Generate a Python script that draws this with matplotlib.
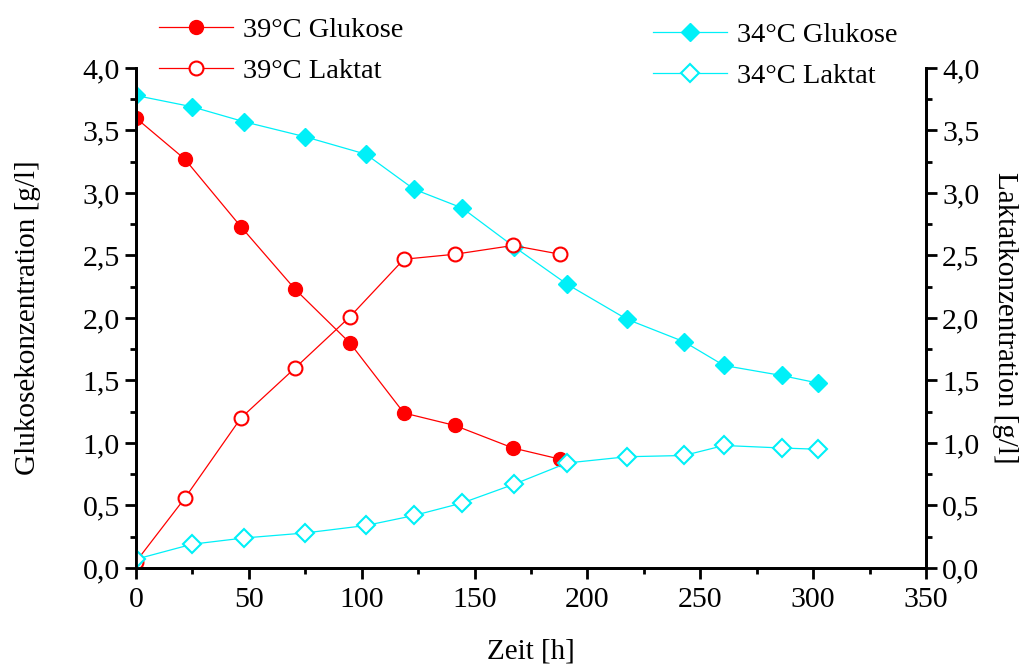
import matplotlib.pyplot as plt
from matplotlib.ticker import MultipleLocator, FuncFormatter

plt.rcParams['font.family'] = ['Liberation Serif', 'DejaVu Serif']

# 39 °C run
t39 = [0, 21.7, 46.5, 70.5, 94.8, 118.7, 141.3, 167, 188]
glc39 = [3.60, 3.27, 2.73, 2.23, 1.80, 1.24, 1.14, 0.96, 0.87]
lac39 = [0.05, 0.56, 1.20, 1.60, 2.01, 2.47, 2.51, 2.58, 2.51]

# 34 °C run
t34 = [0, 24.8, 47.9, 74.9, 101.9, 123.2, 144.5, 167.5, 191, 217.5, 242.8, 260.5, 286, 302]
glc34 = [3.78, 3.69, 3.57, 3.45, 3.31, 3.03, 2.88, 2.57, 2.27, 1.99, 1.81, 1.62, 1.54, 1.48]
lac34 = [0.07, 0.19, 0.24, 0.28, 0.34, 0.42, 0.52, 0.67, 0.84, 0.89, 0.90, 0.98, 0.96, 0.95]

red = '#ff0000'
cyan = '#00f0f8'

fig = plt.figure(figsize=(10.23, 6.64), dpi=100)
ax = fig.add_axes([0.1329, 0.1446, 0.7723, 0.753])
ax2 = ax.twinx()

l1, = ax.plot(t39, glc39, '-o', color=red, lw=0.9, ms=10, mfc=red, mec=red,
              label='39°C Glukose')
l3, = ax.plot(t34, glc34, '-D', color=cyan, lw=0.9, ms=9, mfc=cyan, mec=cyan,
              label='34°C Glukose')
l2, = ax2.plot(t39, lac39, '-o', color=red, lw=0.9, ms=10, mfc='white', mec=red,
               mew=1.5, label='39°C Laktat')
l4, = ax2.plot(t34, lac34, '-D', color=cyan, lw=0.9, ms=9, mfc='white', mec=cyan,
               mew=1.5, label='34°C Laktat')

comma = FuncFormatter(lambda v, p: f'{v:.1f}'.replace('.', ','))
for a in (ax, ax2):
    a.set_xlim(0, 350)
    a.set_ylim(0, 4.0)
    a.yaxis.set_major_locator(MultipleLocator(0.5))
    a.yaxis.set_minor_locator(MultipleLocator(0.25))
    a.yaxis.set_major_formatter(comma)
    a.spines['top'].set_visible(False)
    for s in a.spines.values():
        s.set_linewidth(2)
    a.tick_params(which='major', direction='out', length=8, width=2, labelsize=21.5)
    a.tick_params(which='minor', direction='out', length=4, width=2)

ax.xaxis.set_major_locator(MultipleLocator(50))
ax.xaxis.set_minor_locator(MultipleLocator(25))
ax.tick_params(axis='x', pad=6)

ax.set_xlabel('Zeit [h]', fontsize=21, labelpad=18)
ax.set_ylabel('Glukosekonzentration [g/l]', fontsize=21, labelpad=30)
ax2.set_ylabel('Laktatkonzentration [g/l]', fontsize=21, rotation=270, labelpad=28)

leg_kw = dict(frameon=False, fontsize=20.5, handlelength=2.6, handletextpad=0.35,
              labelspacing=0.55, borderpad=0, borderaxespad=0)
fig.legend(handles=[l1, l2], loc='upper left', bbox_to_anchor=(0.155, 0.975), **leg_kw)
fig.legend(handles=[l3, l4], loc='upper left', bbox_to_anchor=(0.638, 0.967), **leg_kw)

fig.savefig('out.png', dpi=100)
